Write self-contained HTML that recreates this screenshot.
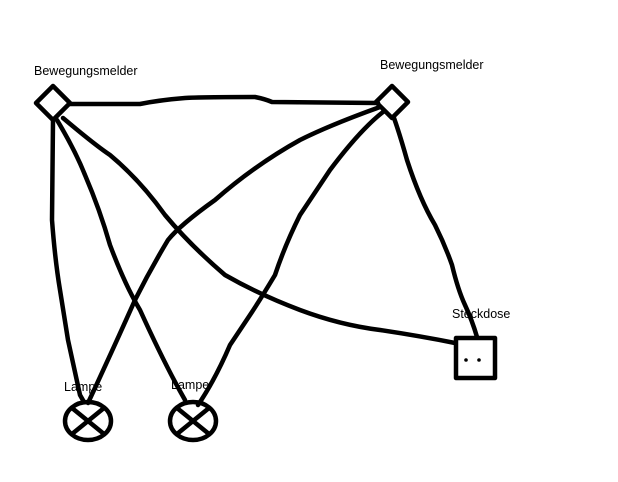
<!DOCTYPE html>
<html><head><meta charset="utf-8"><style>
html,body{margin:0;padding:0;background:#fff;}
svg{display:block;}
text{font-family:"Liberation Sans",sans-serif;font-size:12.5px;fill:#000;}
</style></head><body>
<svg width="618" height="482" viewBox="0 0 618 482" xmlns="http://www.w3.org/2000/svg">
<g fill="none" stroke="#000" stroke-width="4.5" stroke-linejoin="round" stroke-linecap="round">
<polygon points="53,86 70,103 53,120 36,103"/>
<polygon points="392,86 408,102 392,118 376,102"/>
<path d="M70,104 L140,104 Q160,100 185,98 Q200,97 255,97 Q265,99 272,102 L378,103"/>
<path d="M53,120 L52,220 Q55,260 60,290 L68,340 L80,395 L84,402"/>
<path d="M57,120 Q75,150 85,175 Q100,210 110,245 Q125,285 140,310 Q165,365 185,400"/>
<path d="M63,118 Q95,145 110,155 Q140,180 165,215 Q190,245 225,275 Q260,295 300,310 Q340,325 380,330 Q420,336 455,343"/>
<path d="M380,107 Q330,125 300,140 Q255,165 215,200 Q180,225 168,240 Q150,270 135,300 Q115,345 88,403"/>
<path d="M383,112 Q360,130 330,170 Q310,200 300,215 Q285,245 275,275 Q260,300 250,315 Q240,330 230,345 Q215,380 198,405"/>
<path d="M394,118 Q400,135 407,160 Q420,200 435,225 Q445,245 452,265 Q458,290 465,305 Q472,320 477,337"/>
<ellipse cx="88" cy="421" rx="23" ry="19"/>
<path d="M72,408 L104,434 M104,408 L72,434"/>
<ellipse cx="193" cy="421" rx="23" ry="19"/>
<path d="M177,408 L209,434 M209,408 L177,434"/>
<rect x="456" y="338" width="39" height="40"/>
</g>
<circle cx="466" cy="360" r="1.8" fill="#000"/>
<circle cx="479" cy="360" r="1.8" fill="#000"/>
<text x="34" y="75">Bewegungsmelder</text>
<text x="380" y="69">Bewegungsmelder</text>
<text x="64" y="391">Lampe</text>
<text x="171" y="389">Lampe</text>
<text x="452" y="318">Steckdose</text>
</svg>
</body></html>
